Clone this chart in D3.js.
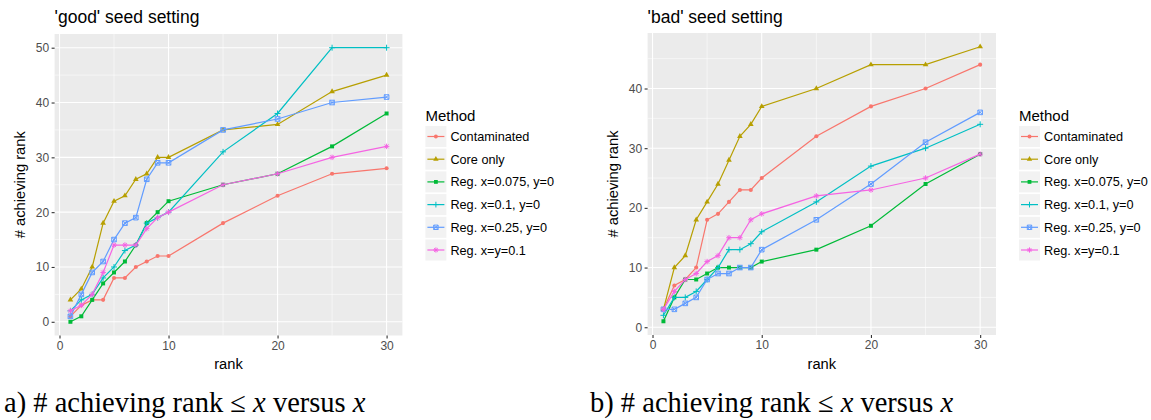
<!DOCTYPE html>
<html lang="en">
<head>
  <meta charset="UTF-8" />
  <title>Seed setting</title>
  <script src="https://d3js.org/d3.v7.min.js"></script>
  <style>
    body { margin: 0; background: #fff; font-family: 'Liberation Sans', Arial, sans-serif; }
    svg { display: block; }
    .caption { font-family: 'Liberation Serif', 'Times New Roman', serif; font-size: 28.5px; fill: #000; }
  </style>
</head>
<body>
  <svg width="1151" height="420"></svg>

  <script>
    // ranks on the x axis
    const ranks = [1, 2, 3, 4, 5, 6, 7, 8, 9, 10, 15, 20, 25, 30];
    const methods = ["Contaminated", "Core only", "Reg. x=0.075, y=0", "Reg. x=0.1, y=0", "Reg. x=0.25, y=0", "Reg. x=y=0.1"];

    // 'good' seed setting, # achieving rank <= x
    const goodContaminated = [1, 3, 4, 4, 8, 8, 10, 11, 12, 12, 18, 23, 27, 28];
    const goodCore         = [4, 6, 10, 18, 22, 23, 26, 27, 30, 30, 35, 36, 42, 45];
    const goodReg0075      = [0, 1, 4, 7, 9, 11, 14, 18, 20, 22, 25, 27, 32, 38];
    const goodReg01        = [2, 4, 5, 8, 10, 13, 14, 18, 19, 20, 31, 38, 50, 50];
    const goodReg025       = [1, 5, 9, 11, 15, 18, 19, 26, 29, 29, 35, 37, 40, 41];
    const goodRegXY        = [2, 3, 5, 9, 14, 14, 14, 17, 19, 20, 25, 27, 30, 32];

    // 'bad' seed setting
    const badContaminated = [3, 7, 8, 10, 18, 19, 21, 23, 23, 25, 32, 37, 40, 44];
    const badCore         = [3, 10, 12, 18, 21, 24, 28, 32, 34, 37, 40, 44, 44, 47];
    const badReg0075      = [1, 5, 8, 8, 9, 10, 10, 10, 10, 11, 13, 17, 24, 29];
    const badReg01        = [2, 5, 5, 6, 8, 10, 13, 13, 14, 16, 21, 27, 30, 34];
    const badReg025       = [3, 3, 4, 5, 8, 9, 9, 10, 10, 13, 18, 24, 31, 36];
    const badRegXY        = [3, 6, 8, 9, 11, 12, 15, 15, 18, 19, 22, 23, 25, 29];

    const xTicks = [0, 10, 20, 30];
    const goodYTicks = [0, 10, 20, 30, 40, 50];
    const badYTicks = [0, 10, 20, 30, 40];

    const color = d3.scaleOrdinal()
      .domain(methods)
      .range(["#F8766D", "#B79F00", "#00BA38", "#00BFC4", "#619CFF", "#F564E3"]);

    // marker shapes, roughly like ggplot's 16,17,15,3,7,8
    function shapePath(m, s) {
      const r = s;
      switch (methods.indexOf(m)) {
        case 0: return d3.symbol(d3.symbolCircle, Math.PI * r * r * 0.8)();
        case 1: return d3.symbol(d3.symbolTriangle, r * r * 2.6)();
        case 2: return d3.symbol(d3.symbolSquare, r * r * 3)();
        case 3: return `M${-r * 1.3},0H${r * 1.3}M0,${-r * 1.3}V${r * 1.3}`;
        case 4: return `M${-r},${-r}H${r}V${r}H${-r}ZM${-r},${-r}L${r},${r}M${r},${-r}L${-r},${r}`;
        default: {
          const k = r * 1.2, d = r * 0.85;
          return `M${-k},0H${k}M0,${-k}V${k}M${-d},${-d}L${d},${d}M${d},${-d}L${-d},${d}`;
        }
      }
    }
    const filled = i => i <= 2;

    const svg = d3.select("svg");

    function drawPanel(opts) {
      const { left, right, top, bottom, yDomain, yTicks, title, series } = opts;
      const x = d3.scaleLinear().domain([-0.45, 31.45]).range([left, right]);
      const y = d3.scaleLinear().domain(yDomain).range([bottom, top]);
      const g = svg.append("g");

      g.append("rect")
        .attr("x", left).attr("y", top)
        .attr("width", right - left).attr("height", bottom - top)
        .attr("fill", "#EBEBEB");

      // minor grid
      const xMinor = [5, 15, 25];
      const yMinor = yTicks.map(t => t + 5).filter(t => t < yDomain[1]);
      g.selectAll("line.xmin").data(xMinor).join("line")
        .attr("x1", d => x(d)).attr("x2", d => x(d))
        .attr("y1", top).attr("y2", bottom)
        .attr("stroke", "#fff").attr("stroke-width", 0.55);
      g.selectAll("line.ymin").data(yMinor).join("line")
        .attr("y1", d => y(d)).attr("y2", d => y(d))
        .attr("x1", left).attr("x2", right)
        .attr("stroke", "#fff").attr("stroke-width", 0.55);
      // major grid
      g.selectAll("line.xmaj").data(xTicks).join("line")
        .attr("x1", d => x(d)).attr("x2", d => x(d))
        .attr("y1", top).attr("y2", bottom)
        .attr("stroke", "#fff").attr("stroke-width", 1.1);
      g.selectAll("line.ymaj").data(yTicks).join("line")
        .attr("y1", d => y(d)).attr("y2", d => y(d))
        .attr("x1", left).attr("x2", right)
        .attr("stroke", "#fff").attr("stroke-width", 1.1);

      // axes
      const xAxis = g.append("g")
        .attr("transform", `translate(0,${bottom})`)
        .call(d3.axisBottom(x).tickValues(xTicks).tickSize(3).tickPadding(2.5));
      const yAxis = g.append("g")
        .attr("transform", `translate(${left},0)`)
        .call(d3.axisLeft(y).tickValues(yTicks).tickSize(3).tickPadding(2.5));
      [xAxis, yAxis].forEach(a => {
        a.select(".domain").remove();
        a.selectAll(".tick line").attr("stroke", "#333").attr("stroke-width", 1.1);
        a.selectAll(".tick text").attr("fill", "#4D4D4D")
          .style("font-size", "12px").style("font-family", "'Liberation Sans', Arial, sans-serif");
      });

      // lines and points
      const line = d3.line().x((d, i) => x(ranks[i])).y(d => y(d));
      series.forEach((vals, i) => {
        const m = methods[i];
        g.append("path")
          .attr("d", line(vals))
          .attr("fill", "none")
          .attr("stroke", color(m))
          .attr("stroke-width", 1.2);
        g.selectAll(null).data(vals).join("path")
          .attr("transform", (d, j) => `translate(${x(ranks[j])},${y(d)})`)
          .attr("d", shapePath(m, 2.3))
          .attr("fill", filled(i) ? color(m) : "none")
          .attr("stroke", color(m))
          .attr("stroke-width", filled(i) ? 0 : 1);
      });

      // titles
      g.append("text")
        .attr("x", left).attr("y", 22.5)
        .style("font-size", "17.5px").attr("fill", "#000")
        .text(title);
      g.append("text")
        .attr("x", (left + right) / 2).attr("y", 369)
        .attr("text-anchor", "middle")
        .style("font-size", "14.7px").attr("fill", "#000")
        .text("rank");
      g.append("text")
        .attr("transform", `translate(${left - 30},${(top + bottom) / 2}) rotate(-90)`)
        .attr("text-anchor", "middle")
        .style("font-size", "14.7px").attr("fill", "#000")
        .text("# achieving rank");

      // legend
      const lx = right + 23;
      const lg = g.append("g");
      lg.append("text")
        .attr("x", lx).attr("y", 121)
        .style("font-size", "15px").attr("fill", "#000")
        .text("Method");
      const rows = lg.selectAll("g.row").data(methods).join("g")
        .attr("transform", (d, i) => `translate(${lx},${126 + i * 22.7})`);
      rows.append("rect")
        .attr("width", 21).attr("height", 21)
        .attr("fill", "#F2F2F2");
      rows.append("line")
        .attr("x1", 2).attr("x2", 19).attr("y1", 10.5).attr("y2", 10.5)
        .attr("stroke", d => color(d)).attr("stroke-width", 1.2);
      rows.append("path")
        .attr("transform", "translate(10.5,10.5)")
        .attr("d", d => shapePath(d, 2.2))
        .attr("fill", (d, i) => filled(i) ? color(d) : "none")
        .attr("stroke", d => color(d))
        .attr("stroke-width", (d, i) => filled(i) ? 0 : 1);
      rows.append("text")
        .attr("x", 25).attr("y", 15)
        .style("font-size", "12.7px").attr("fill", "#000")
        .text(d => d);
    }

    drawPanel({
      left: 54.6, right: 402.4, top: 34, bottom: 335.5,
      yDomain: [-2.5, 52.5], yTicks: goodYTicks,
      title: "'good' seed setting",
      series: [goodContaminated, goodCore, goodReg0075, goodReg01, goodReg025, goodRegXY]
    });
    drawPanel({
      left: 647.6, right: 996, top: 33, bottom: 335,
      yDomain: [-1.3, 49.3], yTicks: badYTicks,
      title: "'bad' seed setting",
      series: [badContaminated, badCore, badReg0075, badReg01, badReg025, badRegXY]
    });

    // captions under the panels
    const captions = [{ x: 4, tag: "a)" }, { x: 590, tag: "b)" }];
    captions.forEach(c => {
      const t = svg.append("text").attr("class", "caption").attr("x", c.x).attr("y", 412);
      t.append("tspan").text(`${c.tag} # achieving rank \u2264 `);
      t.append("tspan").style("font-style", "italic").text("x");
      t.append("tspan").text(" versus ");
      t.append("tspan").style("font-style", "italic").text("x");
    });
  </script>
</body>
</html>
